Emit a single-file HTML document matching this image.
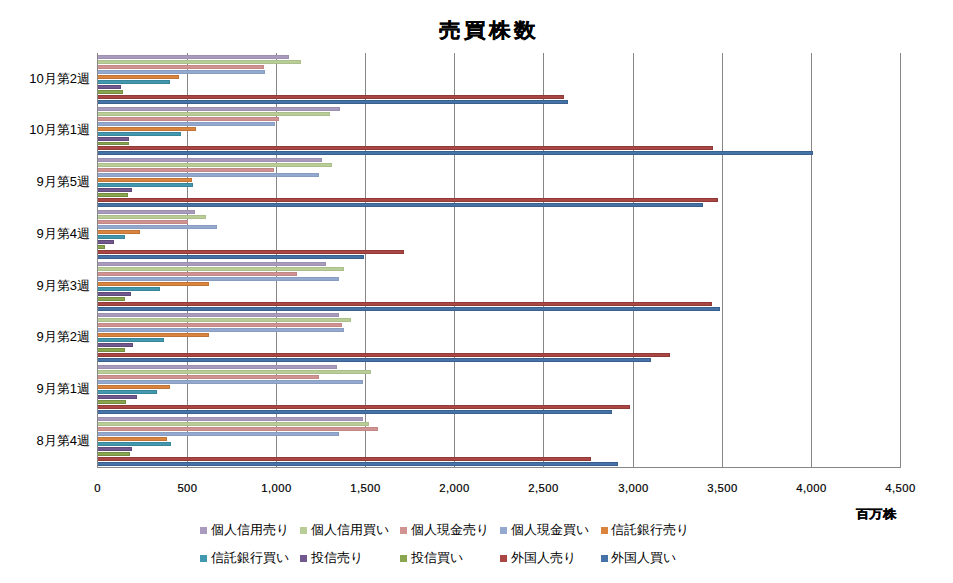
<!DOCTYPE html>
<html><head><meta charset="utf-8"><style>
html,body{margin:0;padding:0;background:#fff;}
body{width:953px;height:583px;position:relative;overflow:hidden;font-family:"Liberation Sans",sans-serif;color:#000;}
.t{position:absolute;white-space:nowrap;line-height:1;}
.title{font-size:20px;font-weight:bold;letter-spacing:3px;transform:scaleX(1.08);transform-origin:0 0;-webkit-text-stroke:0.25px #000;}
.yl{font-size:13px;text-align:right;width:80px;}
.xl{font-size:11.3px;letter-spacing:0.45px;text-align:center;width:60px;-webkit-text-stroke:0.2px #000;}
.unit{font-size:12px;font-weight:bold;transform:scaleX(1.12);transform-origin:0 0;-webkit-text-stroke:0.3px #000;}
.lg{font-size:13px;}
.mk{position:absolute;width:7px;height:7px;}
svg{position:absolute;left:0;top:0;}
</style></head><body>

<svg width="953" height="583" shape-rendering="crispEdges"><rect x="187" y="53" width="1" height="414" fill="#868686"/><rect x="276" y="53" width="1" height="414" fill="#868686"/><rect x="365" y="53" width="1" height="414" fill="#868686"/><rect x="454" y="53" width="1" height="414" fill="#868686"/><rect x="543" y="53" width="1" height="414" fill="#868686"/><rect x="633" y="53" width="1" height="414" fill="#868686"/><rect x="722" y="53" width="1" height="414" fill="#868686"/><rect x="811" y="53" width="1" height="414" fill="#868686"/><rect x="900" y="53" width="1" height="414" fill="#868686"/><rect x="98" y="55" width="191" height="4" fill="#9D90AF"/><rect x="98" y="56" width="190" height="2" fill="#A99BBD"/><rect x="98" y="60" width="203" height="4" fill="#ACBE8B"/><rect x="98" y="61" width="202" height="2" fill="#B9CD96"/><rect x="98" y="65" width="166" height="4" fill="#C28887"/><rect x="98" y="66" width="165" height="2" fill="#D19392"/><rect x="98" y="70" width="167" height="4" fill="#889DC0"/><rect x="98" y="71" width="166" height="2" fill="#93A9CF"/><rect x="98" y="75" width="81" height="4" fill="#C07435"/><rect x="98" y="76" width="80" height="2" fill="#DB843D"/><rect x="98" y="80" width="72" height="4" fill="#39859A"/><rect x="98" y="81" width="71" height="2" fill="#4198AF"/><rect x="98" y="85" width="23" height="4" fill="#604A79"/><rect x="98" y="86" width="22" height="2" fill="#71588F"/><rect x="98" y="90" width="25" height="4" fill="#748C42"/><rect x="98" y="91" width="24" height="2" fill="#89A54E"/><rect x="98" y="95" width="466" height="4" fill="#903B38"/><rect x="98" y="96" width="465" height="2" fill="#AA4643"/><rect x="98" y="100" width="470" height="4" fill="#3A608D"/><rect x="98" y="101" width="469" height="2" fill="#4572A7"/><rect x="98" y="107" width="242" height="4" fill="#9D90AF"/><rect x="98" y="108" width="241" height="2" fill="#A99BBD"/><rect x="98" y="112" width="232" height="4" fill="#ACBE8B"/><rect x="98" y="113" width="231" height="2" fill="#B9CD96"/><rect x="98" y="117" width="181" height="4" fill="#C28887"/><rect x="98" y="118" width="180" height="2" fill="#D19392"/><rect x="98" y="122" width="177" height="4" fill="#889DC0"/><rect x="98" y="123" width="176" height="2" fill="#93A9CF"/><rect x="98" y="127" width="98" height="4" fill="#C07435"/><rect x="98" y="128" width="97" height="2" fill="#DB843D"/><rect x="98" y="132" width="83" height="4" fill="#39859A"/><rect x="98" y="133" width="82" height="2" fill="#4198AF"/><rect x="98" y="137" width="31" height="4" fill="#604A79"/><rect x="98" y="138" width="30" height="2" fill="#71588F"/><rect x="98" y="142" width="31" height="3" fill="#748C42"/><rect x="98" y="143" width="30" height="1" fill="#89A54E"/><rect x="98" y="146" width="615" height="4" fill="#903B38"/><rect x="98" y="147" width="614" height="2" fill="#AA4643"/><rect x="98" y="151" width="715" height="4" fill="#3A608D"/><rect x="98" y="152" width="714" height="2" fill="#4572A7"/><rect x="98" y="158" width="224" height="4" fill="#9D90AF"/><rect x="98" y="159" width="223" height="2" fill="#A99BBD"/><rect x="98" y="163" width="234" height="4" fill="#ACBE8B"/><rect x="98" y="164" width="233" height="2" fill="#B9CD96"/><rect x="98" y="168" width="176" height="4" fill="#C28887"/><rect x="98" y="169" width="175" height="2" fill="#D19392"/><rect x="98" y="173" width="221" height="4" fill="#889DC0"/><rect x="98" y="174" width="220" height="2" fill="#93A9CF"/><rect x="98" y="178" width="94" height="4" fill="#C07435"/><rect x="98" y="179" width="93" height="2" fill="#DB843D"/><rect x="98" y="183" width="95" height="4" fill="#39859A"/><rect x="98" y="184" width="94" height="2" fill="#4198AF"/><rect x="98" y="188" width="34" height="4" fill="#604A79"/><rect x="98" y="189" width="33" height="2" fill="#71588F"/><rect x="98" y="193" width="30" height="4" fill="#748C42"/><rect x="98" y="194" width="29" height="2" fill="#89A54E"/><rect x="98" y="198" width="620" height="4" fill="#903B38"/><rect x="98" y="199" width="619" height="2" fill="#AA4643"/><rect x="98" y="203" width="605" height="4" fill="#3A608D"/><rect x="98" y="204" width="604" height="2" fill="#4572A7"/><rect x="98" y="210" width="97" height="4" fill="#9D90AF"/><rect x="98" y="211" width="96" height="2" fill="#A99BBD"/><rect x="98" y="215" width="108" height="4" fill="#ACBE8B"/><rect x="98" y="216" width="107" height="2" fill="#B9CD96"/><rect x="98" y="220" width="90" height="4" fill="#C28887"/><rect x="98" y="221" width="89" height="2" fill="#D19392"/><rect x="98" y="225" width="119" height="4" fill="#889DC0"/><rect x="98" y="226" width="118" height="2" fill="#93A9CF"/><rect x="98" y="230" width="42" height="4" fill="#C07435"/><rect x="98" y="231" width="41" height="2" fill="#DB843D"/><rect x="98" y="235" width="27" height="4" fill="#39859A"/><rect x="98" y="236" width="26" height="2" fill="#4198AF"/><rect x="98" y="240" width="16" height="4" fill="#604A79"/><rect x="98" y="241" width="15" height="2" fill="#71588F"/><rect x="98" y="245" width="7" height="4" fill="#748C42"/><rect x="98" y="246" width="6" height="2" fill="#89A54E"/><rect x="98" y="250" width="306" height="4" fill="#903B38"/><rect x="98" y="251" width="305" height="2" fill="#AA4643"/><rect x="98" y="255" width="266" height="4" fill="#3A608D"/><rect x="98" y="256" width="265" height="2" fill="#4572A7"/><rect x="98" y="262" width="228" height="4" fill="#9D90AF"/><rect x="98" y="263" width="227" height="2" fill="#A99BBD"/><rect x="98" y="267" width="246" height="4" fill="#ACBE8B"/><rect x="98" y="268" width="245" height="2" fill="#B9CD96"/><rect x="98" y="272" width="199" height="4" fill="#C28887"/><rect x="98" y="273" width="198" height="2" fill="#D19392"/><rect x="98" y="277" width="241" height="4" fill="#889DC0"/><rect x="98" y="278" width="240" height="2" fill="#93A9CF"/><rect x="98" y="282" width="111" height="4" fill="#C07435"/><rect x="98" y="283" width="110" height="2" fill="#DB843D"/><rect x="98" y="287" width="62" height="4" fill="#39859A"/><rect x="98" y="288" width="61" height="2" fill="#4198AF"/><rect x="98" y="292" width="33" height="4" fill="#604A79"/><rect x="98" y="293" width="32" height="2" fill="#71588F"/><rect x="98" y="297" width="27" height="4" fill="#748C42"/><rect x="98" y="298" width="26" height="2" fill="#89A54E"/><rect x="98" y="302" width="614" height="4" fill="#903B38"/><rect x="98" y="303" width="613" height="2" fill="#AA4643"/><rect x="98" y="307" width="622" height="4" fill="#3A608D"/><rect x="98" y="308" width="621" height="2" fill="#4572A7"/><rect x="98" y="313" width="241" height="4" fill="#9D90AF"/><rect x="98" y="314" width="240" height="2" fill="#A99BBD"/><rect x="98" y="318" width="253" height="4" fill="#ACBE8B"/><rect x="98" y="319" width="252" height="2" fill="#B9CD96"/><rect x="98" y="323" width="244" height="4" fill="#C28887"/><rect x="98" y="324" width="243" height="2" fill="#D19392"/><rect x="98" y="328" width="246" height="4" fill="#889DC0"/><rect x="98" y="329" width="245" height="2" fill="#93A9CF"/><rect x="98" y="333" width="111" height="4" fill="#C07435"/><rect x="98" y="334" width="110" height="2" fill="#DB843D"/><rect x="98" y="338" width="66" height="4" fill="#39859A"/><rect x="98" y="339" width="65" height="2" fill="#4198AF"/><rect x="98" y="343" width="35" height="4" fill="#604A79"/><rect x="98" y="344" width="34" height="2" fill="#71588F"/><rect x="98" y="348" width="27" height="4" fill="#748C42"/><rect x="98" y="349" width="26" height="2" fill="#89A54E"/><rect x="98" y="353" width="572" height="4" fill="#903B38"/><rect x="98" y="354" width="571" height="2" fill="#AA4643"/><rect x="98" y="358" width="553" height="4" fill="#3A608D"/><rect x="98" y="359" width="552" height="2" fill="#4572A7"/><rect x="98" y="365" width="239" height="4" fill="#9D90AF"/><rect x="98" y="366" width="238" height="2" fill="#A99BBD"/><rect x="98" y="370" width="273" height="4" fill="#ACBE8B"/><rect x="98" y="371" width="272" height="2" fill="#B9CD96"/><rect x="98" y="375" width="221" height="4" fill="#C28887"/><rect x="98" y="376" width="220" height="2" fill="#D19392"/><rect x="98" y="380" width="265" height="4" fill="#889DC0"/><rect x="98" y="381" width="264" height="2" fill="#93A9CF"/><rect x="98" y="385" width="72" height="4" fill="#C07435"/><rect x="98" y="386" width="71" height="2" fill="#DB843D"/><rect x="98" y="390" width="59" height="4" fill="#39859A"/><rect x="98" y="391" width="58" height="2" fill="#4198AF"/><rect x="98" y="395" width="39" height="4" fill="#604A79"/><rect x="98" y="396" width="38" height="2" fill="#71588F"/><rect x="98" y="400" width="28" height="4" fill="#748C42"/><rect x="98" y="401" width="27" height="2" fill="#89A54E"/><rect x="98" y="405" width="532" height="4" fill="#903B38"/><rect x="98" y="406" width="531" height="2" fill="#AA4643"/><rect x="98" y="410" width="514" height="4" fill="#3A608D"/><rect x="98" y="411" width="513" height="2" fill="#4572A7"/><rect x="98" y="417" width="265" height="4" fill="#9D90AF"/><rect x="98" y="418" width="264" height="2" fill="#A99BBD"/><rect x="98" y="422" width="271" height="4" fill="#ACBE8B"/><rect x="98" y="423" width="270" height="2" fill="#B9CD96"/><rect x="98" y="427" width="280" height="4" fill="#C28887"/><rect x="98" y="428" width="279" height="2" fill="#D19392"/><rect x="98" y="432" width="241" height="4" fill="#889DC0"/><rect x="98" y="433" width="240" height="2" fill="#93A9CF"/><rect x="98" y="437" width="69" height="4" fill="#C07435"/><rect x="98" y="438" width="68" height="2" fill="#DB843D"/><rect x="98" y="442" width="73" height="4" fill="#39859A"/><rect x="98" y="443" width="72" height="2" fill="#4198AF"/><rect x="98" y="447" width="34" height="4" fill="#604A79"/><rect x="98" y="448" width="33" height="2" fill="#71588F"/><rect x="98" y="452" width="32" height="4" fill="#748C42"/><rect x="98" y="453" width="31" height="2" fill="#89A54E"/><rect x="98" y="457" width="493" height="4" fill="#903B38"/><rect x="98" y="458" width="492" height="2" fill="#AA4643"/><rect x="98" y="462" width="520" height="4" fill="#3A608D"/><rect x="98" y="463" width="519" height="2" fill="#4572A7"/><rect x="97" y="53" width="1" height="415" fill="#868686"/><rect x="97" y="467" width="804" height="1" fill="#868686"/></svg>
<div class="t title" style="left:439px;top:19.5px">売買株数</div>
<div class="t yl" style="left:10px;top:71.6px">10月第2週</div>
<div class="t yl" style="left:10px;top:123.3px">10月第1週</div>
<div class="t yl" style="left:10px;top:175.1px">9月第5週</div>
<div class="t yl" style="left:10px;top:226.8px">9月第4週</div>
<div class="t yl" style="left:10px;top:278.6px">9月第3週</div>
<div class="t yl" style="left:10px;top:330.3px">9月第2週</div>
<div class="t yl" style="left:10px;top:382.1px">9月第1週</div>
<div class="t yl" style="left:10px;top:433.8px">8月第4週</div>
<div class="t xl" style="left:67.5px;top:483px">0</div>
<div class="t xl" style="left:157.5px;top:483px">500</div>
<div class="t xl" style="left:246.5px;top:483px">1,000</div>
<div class="t xl" style="left:335.5px;top:483px">1,500</div>
<div class="t xl" style="left:424.5px;top:483px">2,000</div>
<div class="t xl" style="left:513.5px;top:483px">2,500</div>
<div class="t xl" style="left:603.5px;top:483px">3,000</div>
<div class="t xl" style="left:692.5px;top:483px">3,500</div>
<div class="t xl" style="left:781.5px;top:483px">4,000</div>
<div class="t xl" style="left:870.5px;top:483px">4,500</div>
<div class="t unit" style="left:856px;top:508px">百万株</div>
<div class="mk" style="left:200px;top:527px;background:#A99BBD"></div>
<div class="t lg" style="left:211px;top:523px">個人信用売り</div>
<div class="mk" style="left:300px;top:527px;background:#B9CD96"></div>
<div class="t lg" style="left:311px;top:523px">個人信用買い</div>
<div class="mk" style="left:400px;top:527px;background:#D19392"></div>
<div class="t lg" style="left:411px;top:523px">個人現金売り</div>
<div class="mk" style="left:500px;top:527px;background:#93A9CF"></div>
<div class="t lg" style="left:511px;top:523px">個人現金買い</div>
<div class="mk" style="left:601px;top:527px;background:#DB843D"></div>
<div class="t lg" style="left:611px;top:523px">信託銀行売り</div>
<div class="mk" style="left:200px;top:555px;background:#4198AF"></div>
<div class="t lg" style="left:211px;top:551px">信託銀行買い</div>
<div class="mk" style="left:300px;top:555px;background:#71588F"></div>
<div class="t lg" style="left:311px;top:551px">投信売り</div>
<div class="mk" style="left:400px;top:555px;background:#89A54E"></div>
<div class="t lg" style="left:411px;top:551px">投信買い</div>
<div class="mk" style="left:500px;top:555px;background:#AA4643"></div>
<div class="t lg" style="left:511px;top:551px">外国人売り</div>
<div class="mk" style="left:601px;top:555px;background:#4572A7"></div>
<div class="t lg" style="left:611px;top:551px">外国人買い</div>
</body></html>
